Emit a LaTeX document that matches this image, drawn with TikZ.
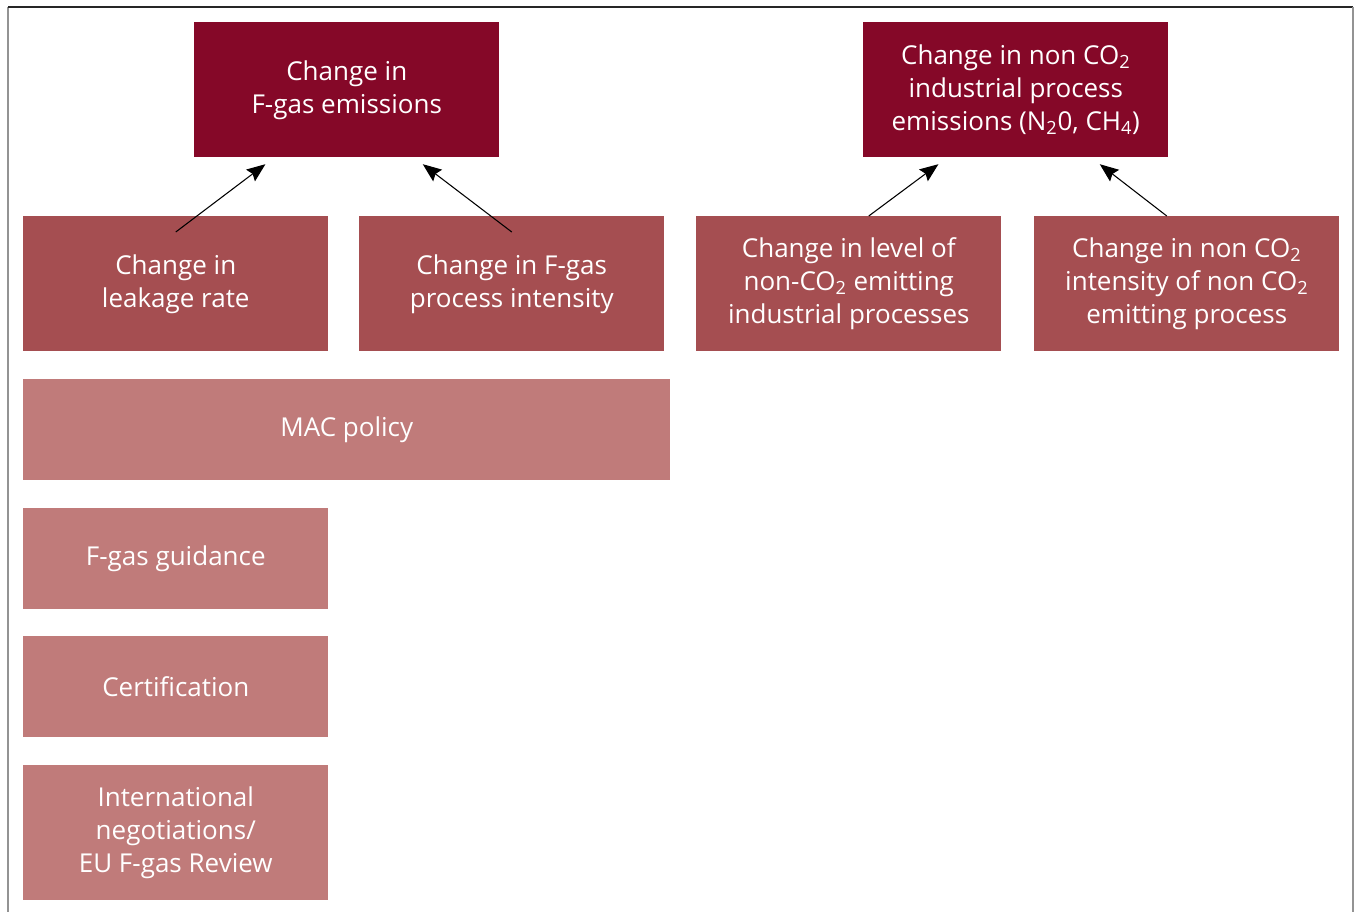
\documentclass[tikz,border=0pt]{standalone}
\usepackage{fontspec}
\setmainfont{Open Sans}
\usepackage{xcolor}
\usetikzlibrary{arrows,arrows.meta}
\definecolor{wine}{RGB}{133, 8, 40}
\definecolor{rose}{RGB}{165, 78, 81}
\definecolor{pink}{RGB}{192, 123, 122}
\newcommand{\sub}[1]{\textsubscript{#1}}

\begin{document}
\begin{tikzpicture}[x=0.75pt,y=-0.75pt,
    every node/.style={anchor=north west,inner sep=0pt,align=center,text=white,
      font=\fontsize{19.5}{24.75}\selectfont},
    tall/.style={minimum width=228.75pt,minimum height=101.25pt},
    short/.style={minimum width=228.75pt,minimum height=75.75pt}]
  \useasboundingbox (0,0) rectangle (1357,912);
  % frame
  \draw[gray!85,line width=1.4pt] (8,912) -- (8,7);
  \draw[black!85,line width=1.4pt] (8,7) -- (1353,7);
  \draw[gray!85,line width=1.4pt] (1353,7) -- (1353,912);
  % outcomes
  \node[tall,fill=wine] (fgas) at (194,22) {Change in\\F-gas emissions};
  \node[tall,fill=wine] (nonco) at (863,22) {Change in non CO\sub{2}\\industrial process\\emissions (N\sub{2}0, CH\sub{4})};
  % drivers
  \node[tall,fill=rose] (leak) at (23,216) {Change in\\leakage rate};
  \node[tall,fill=rose] (proc) at (359,216) {Change in F-gas\\process intensity};
  \node[tall,fill=rose] (level) at (696,216) {Change in level of\\non-CO\sub{2} emitting\\industrial processes};
  \node[tall,fill=rose] (inten) at (1034,216) {Change in non CO\sub{2}\\intensity of non CO\sub{2}\\emitting process};
  % policies
  \node[fill=pink,minimum width=485.25pt,minimum height=75.75pt] (mac) at (23,379) {MAC policy};
  \node[short,fill=pink] (guide) at (23,508) {F-gas guidance};
  \node[short,fill=pink] (cert) at (23,636) {Certification};
  \node[tall,fill=pink] (intl) at (23,765) {International\\negotiations/\\EU F-gas Review};
  \path[-{Stealth[length=14pt,width=11pt,inset=2pt]},line width=0.8pt,black]
    ([yshift=-12pt]leak.north) edge ([xshift=-61pt,yshift=-5pt]fgas.south)
    ([yshift=-12pt]proc.north) edge ([xshift=57pt,yshift=-5pt]fgas.south)
    ([xshift=15pt]level.north) edge ([xshift=-58pt,yshift=-5pt]nonco.south)
    ([xshift=-15pt]inten.north) edge ([xshift=63pt,yshift=-5pt]nonco.south);
\end{tikzpicture}
\end{document}
